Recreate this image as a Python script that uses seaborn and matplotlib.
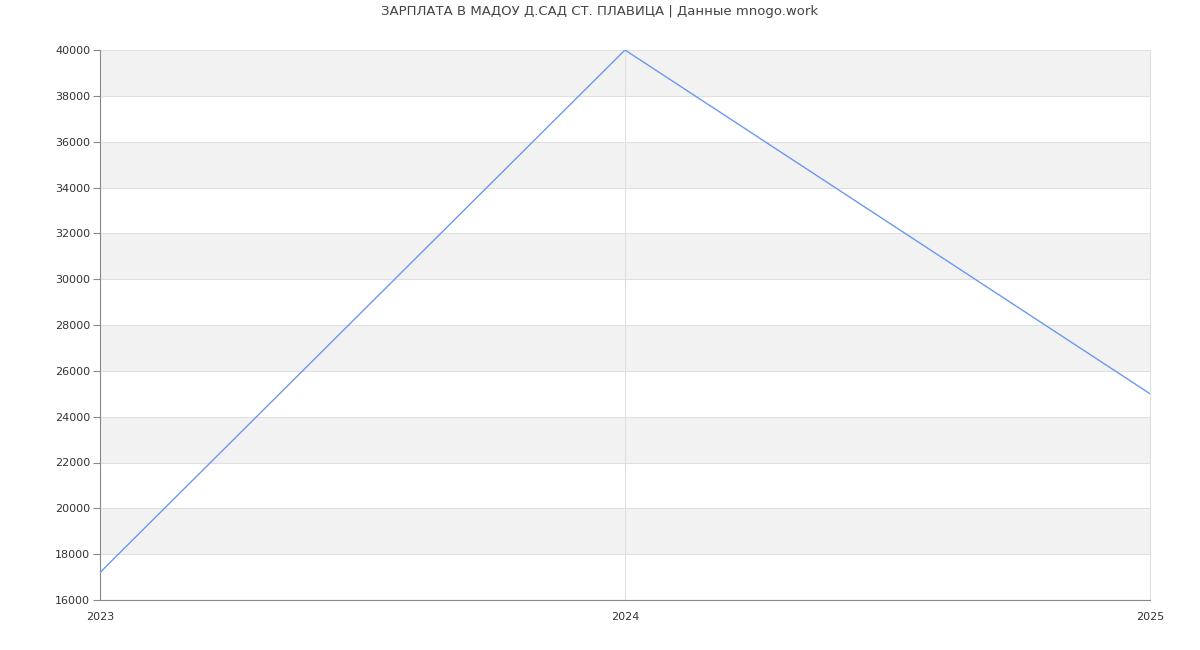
import matplotlib
matplotlib.use('Agg')
import matplotlib.pyplot as plt
import seaborn as sns
import pandas as pd

# Chart data
years = [2023, 2024, 2025]
salary = [17200, 40000, 25000]
y_ticks = list(range(16000, 40001, 2000))

df = pd.DataFrame({'year': years, 'salary': salary})

sns.set_style('white')
plt.rcParams['font.family'] = ['DejaVu Sans']

fig = plt.figure(figsize=(12, 6.5), dpi=100)
ax = fig.add_axes([100 / 1200, 50 / 650, 1050 / 1200, 550 / 650])

# Alternating horizontal bands
for i, lo in enumerate(y_ticks[:-1]):
    if i % 2 == 1:
        ax.axhspan(lo, lo + 2000, color='#f2f2f2', zorder=0, lw=0)

sns.lineplot(data=df, x='year', y='salary', ax=ax, color='#6b98f0',
             linewidth=1, zorder=3)

ax.set_xlim(2023, 2025)
ax.set_ylim(16000, 40000)
ax.set_xticks(years)
ax.set_xticklabels([str(y) for y in years])
ax.set_yticks(y_ticks)
ax.set_yticklabels([str(v) for v in y_ticks])
ax.set_xlabel('')
ax.set_ylabel('')

ax.grid(True, color='#e0e0e0', linewidth=0.8, zorder=1)
ax.set_axisbelow(True)

for side in ['top']:
    ax.spines[side].set_visible(False)
ax.spines['right'].set_color('#e0e0e0')
ax.spines['left'].set_color('#888888')
ax.spines['bottom'].set_color('#888888')

ax.tick_params(axis='y', length=5, color='#888888', labelsize=8,
               labelcolor='#333333', pad=2, left=True)
ax.tick_params(axis='x', length=0, labelsize=8, labelcolor='#333333', pad=9)

fig.suptitle('ЗАРПЛАТА В МАДОУ Д.САД СТ. ПЛАВИЦА | Данные mnogo.work',
             fontsize=9.5, color='#444444', y=0.992)

fig.savefig('out.png', dpi=100)
